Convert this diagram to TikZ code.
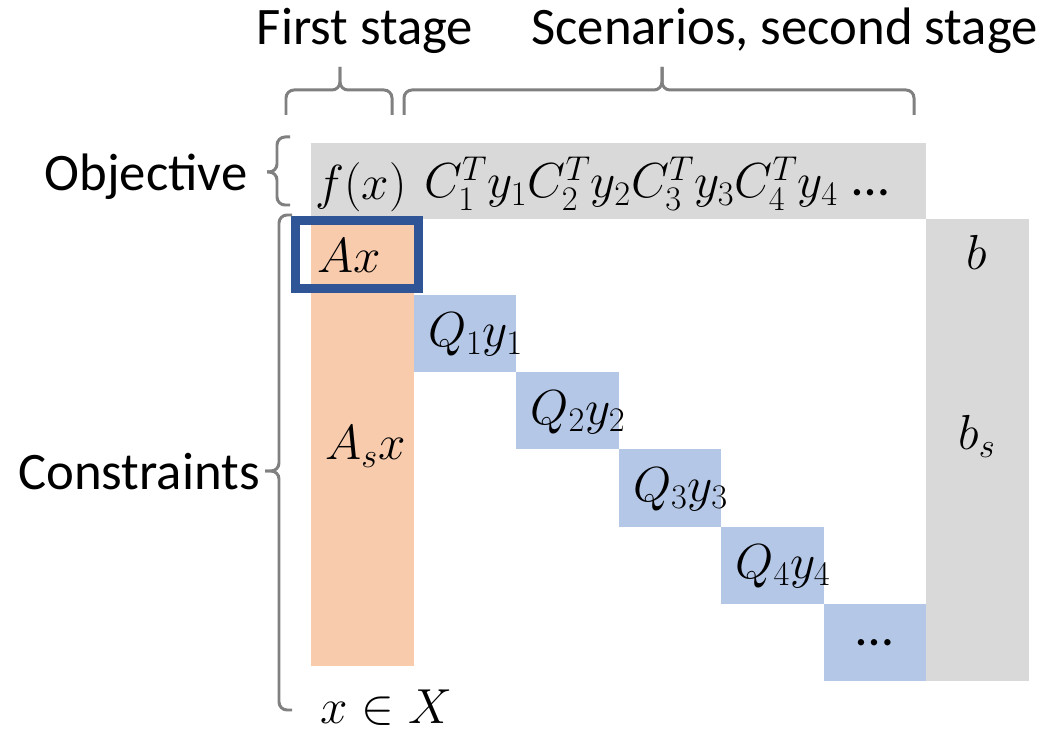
\documentclass[tikz,border=0pt]{standalone}
\usepackage{fix-cm}
\usepackage{fontspec}
\setmainfont{Carlito}
\definecolor{objgray}{HTML}{D9D9D9}
\definecolor{firstorange}{HTML}{F8CBAD}
\definecolor{scenblue}{HTML}{B4C7E7}
\definecolor{frameblue}{HTML}{2F5597}
\definecolor{bracegray}{HTML}{808080}
\begin{document}
\begin{tikzpicture}[
    blk/.style={minimum width=2.05cm, inner sep=0pt, outer sep=0pt},
    qblk/.style={blk, fill=scenblue, minimum height=1.544cm},
    mth/.style={font=\fontsize{28}{34}\selectfont, inner sep=0pt, anchor=base},
    lbl/.style={font=\fontsize{30}{36}\selectfont, inner sep=0pt, anchor=base},
    brc/.style={draw=bracegray, line width=1.7pt, rounded corners=0.16cm},
  ]
    \useasboundingbox (0,0) rectangle (21.08,14.78);

    % Objective row
    \node[blk, fill=objgray, minimum width=12.30cm, minimum height=1.52cm] (obj) at (12.37,11.16) {};
    \node[mth] (fx) at (7.22,10.78) {$f(x)$};
    \node[mth] (cy) at (12.62,10.82) {$C_1^T y_1 C_2^T y_2 C_3^T y_3 C_4^T y_4$};
    \node[lbl] (odots) at (17.42,10.86) {…};

    % First stage column
    \node[blk, fill=firstorange, minimum height=8.94cm] (acol) at (7.245,5.93) {};

    % Scenario blocks on the diagonal
    \node[qblk] (q1) at (9.295,8.108) {};
    \node[qblk] (q2) at (11.345,6.564) {};
    \node[qblk] (q3) at (13.395,5.02) {};
    \node[qblk] (q4) at (15.445,3.476) {};
    \node[qblk, font=\fontsize{30}{36}\selectfont] (q5) at (17.495,1.932) {…};

    % Right hand side
    \node[blk, fill=objgray, minimum height=9.24cm] (bcol) at (19.545,5.78) {};

    % Frame round Ax
    \node[draw=frameblue, line width=0.18cm, minimum width=2.46cm,
      minimum height=1.36cm, inner sep=0pt] (axbox) at (7.14,9.69) {};

    % Terms
    \node[mth] (ax) at (6.98,9.32) {$Ax$};
    \node[mth] (asx) at (7.31,5.58) {$A_s x$};
    \node[mth] (q1y) at ([xshift=0.215cm, yshift=-0.268cm]q1.center) {$Q_1 y_1$};
    \node[mth] (q2y) at ([xshift=0.215cm, yshift=-0.268cm]q2.center) {$Q_2 y_2$};
    \node[mth] (q3y) at ([xshift=0.215cm, yshift=-0.268cm]q3.center) {$Q_3 y_3$};
    \node[mth] (q4y) at ([xshift=0.215cm, yshift=-0.268cm]q4.center) {$Q_4 y_4$};
    \node[mth] (b) at (19.54,9.38) {$b$};
    \node[mth] (bs) at (19.54,5.78) {$b_s$};
    \node[mth] (xinx) at (7.73,0.32) {$x \in X$};

    % Side labels
    \node[lbl] (first) at (7.30,13.88) {First stage};
    \node[lbl] (scen) at (15.69,13.88) {Scenarios, second stage};
    \node[lbl] (objl) at (2.92,10.96) {Objective};
    \node[lbl] (conl) at (2.78,4.98) {Constraints};

    % Braces
    \draw[brc] (5.72,12.48) |- (6.80,12.98) -- (6.80,13.44);
    \draw[brc] (6.80,13.44) -- (6.80,12.98) -| (7.84,12.48);
    \draw[brc] (8.08,12.48) |- (13.24,12.98) -- (13.24,13.44);
    \draw[brc] (13.24,13.44) -- (13.24,12.98) -| (18.28,12.48);
    \draw[brc] (5.80,12.04) -| (5.54,11.34) -- (5.34,11.34);
    \draw[brc] (5.34,11.34) -- (5.54,11.34) |- (5.80,10.68);
    \draw[brc] (5.84,10.48) -| (5.58,5.36) -- (5.30,5.36);
    \draw[brc] (5.30,5.36) -- (5.58,5.36) |- (5.84,0.58);
\end{tikzpicture}
\end{document}
